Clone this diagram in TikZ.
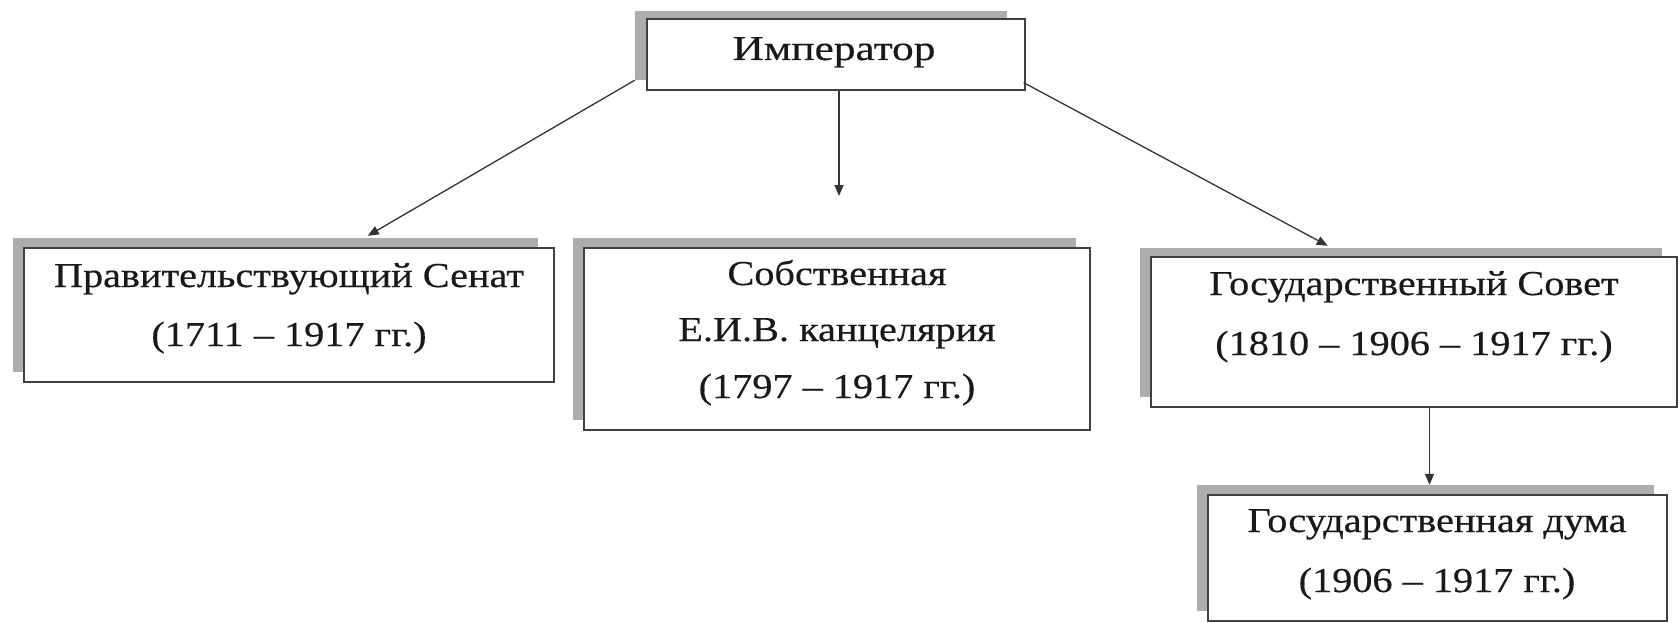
\documentclass[tikz,border=0pt]{standalone}
\usepackage{fontspec}
\setmainfont[FakeStretch=1.15,FakeBold=0.4]{Liberation Serif}
\newfontfamily\widefont[FakeStretch=1.24,FakeBold=0.4]{Liberation Serif}
\usetikzlibrary{arrows.meta,calc}
\begin{document}
\begin{tikzpicture}[x=1pt,y=-1pt,
  box/.style={draw=black!75,line width=1.3pt,fill=white,rectangle,inner sep=0pt},
  shade/.style={fill=black!32,draw=none,rectangle,inner sep=0pt},
  txt/.style={anchor=base,inner sep=0pt,font=\fontsize{35}{42}\selectfont,text=black!90},
  arr/.style={draw=black!80,line width=1.3pt,-{Triangle[length=11pt,width=9pt]}}]
\useasboundingbox[fill=white] (0,0) rectangle (1679,623);
% boxes with shadows
\node[shade,minimum width=372pt,minimum height=69pt] (empS) at (821,45.5) {};
\node[box,minimum width=378pt,minimum height=71pt] (emp) at (836,54.5) {};
\node[shade,minimum width=525pt,minimum height=134pt] (senS) at (275.5,305) {};
\node[box,minimum width=530pt,minimum height=134pt] (sen) at (289,315) {};
\node[shade,minimum width=503pt,minimum height=182pt] (kanS) at (824.5,329) {};
\node[box,minimum width=506pt,minimum height=182pt] (kan) at (837,339) {};
\node[shade,minimum width=522pt,minimum height=149pt] (sovS) at (1401,322.5) {};
\node[box,minimum width=526pt,minimum height=150pt] (sov) at (1414,332) {};
\node[shade,minimum width=457pt,minimum height=126pt] (dumS) at (1425.5,548) {};
\node[box,minimum width=459pt,minimum height=126pt] (dum) at (1437.5,558) {};
% texts
\node[txt,font=\fontsize{35}{42}\widefont] (empT) at (834,60) {Император};
\node[txt] (senT1) at (289,287) {Правительствующий Сенат};
\node[txt] (senT2) at (289,346) {(1711 – 1917 гг.)};
\node[txt] (kanT1) at (837,285) {Собственная};
\node[txt] (kanT2) at (837,341) {Е.И.В. канцелярия};
\node[txt] (kanT3) at (837,398) {(1797 – 1917 гг.)};
\node[txt] (sovT1) at (1414,295) {Государственный Совет};
\node[txt] (sovT2) at (1414,355) {(1810 – 1906 – 1917 гг.)};
\node[txt] (dumT1) at (1437,532) {Государственная дума};
\node[txt] (dumT2) at (1437,592) {(1906 – 1917 гг.)};
% connectors
\coordinate (kanTip) at (839,196);
\draw[arr] (empS.south west) -- ($(senS.north west)+(355,-2)$);
\draw[arr] (emp.south -| kanTip) -- (kanTip);
\draw[arr] ($(emp.south east)+(-2,-8)$) -- ($(sovS.north west)+(188,-2)$);
\draw[arr] ($(sov.south -| dumS.north)+(4,0)$) -- ($(dumS.north)+(4,0)$);
\end{tikzpicture}
\end{document}
